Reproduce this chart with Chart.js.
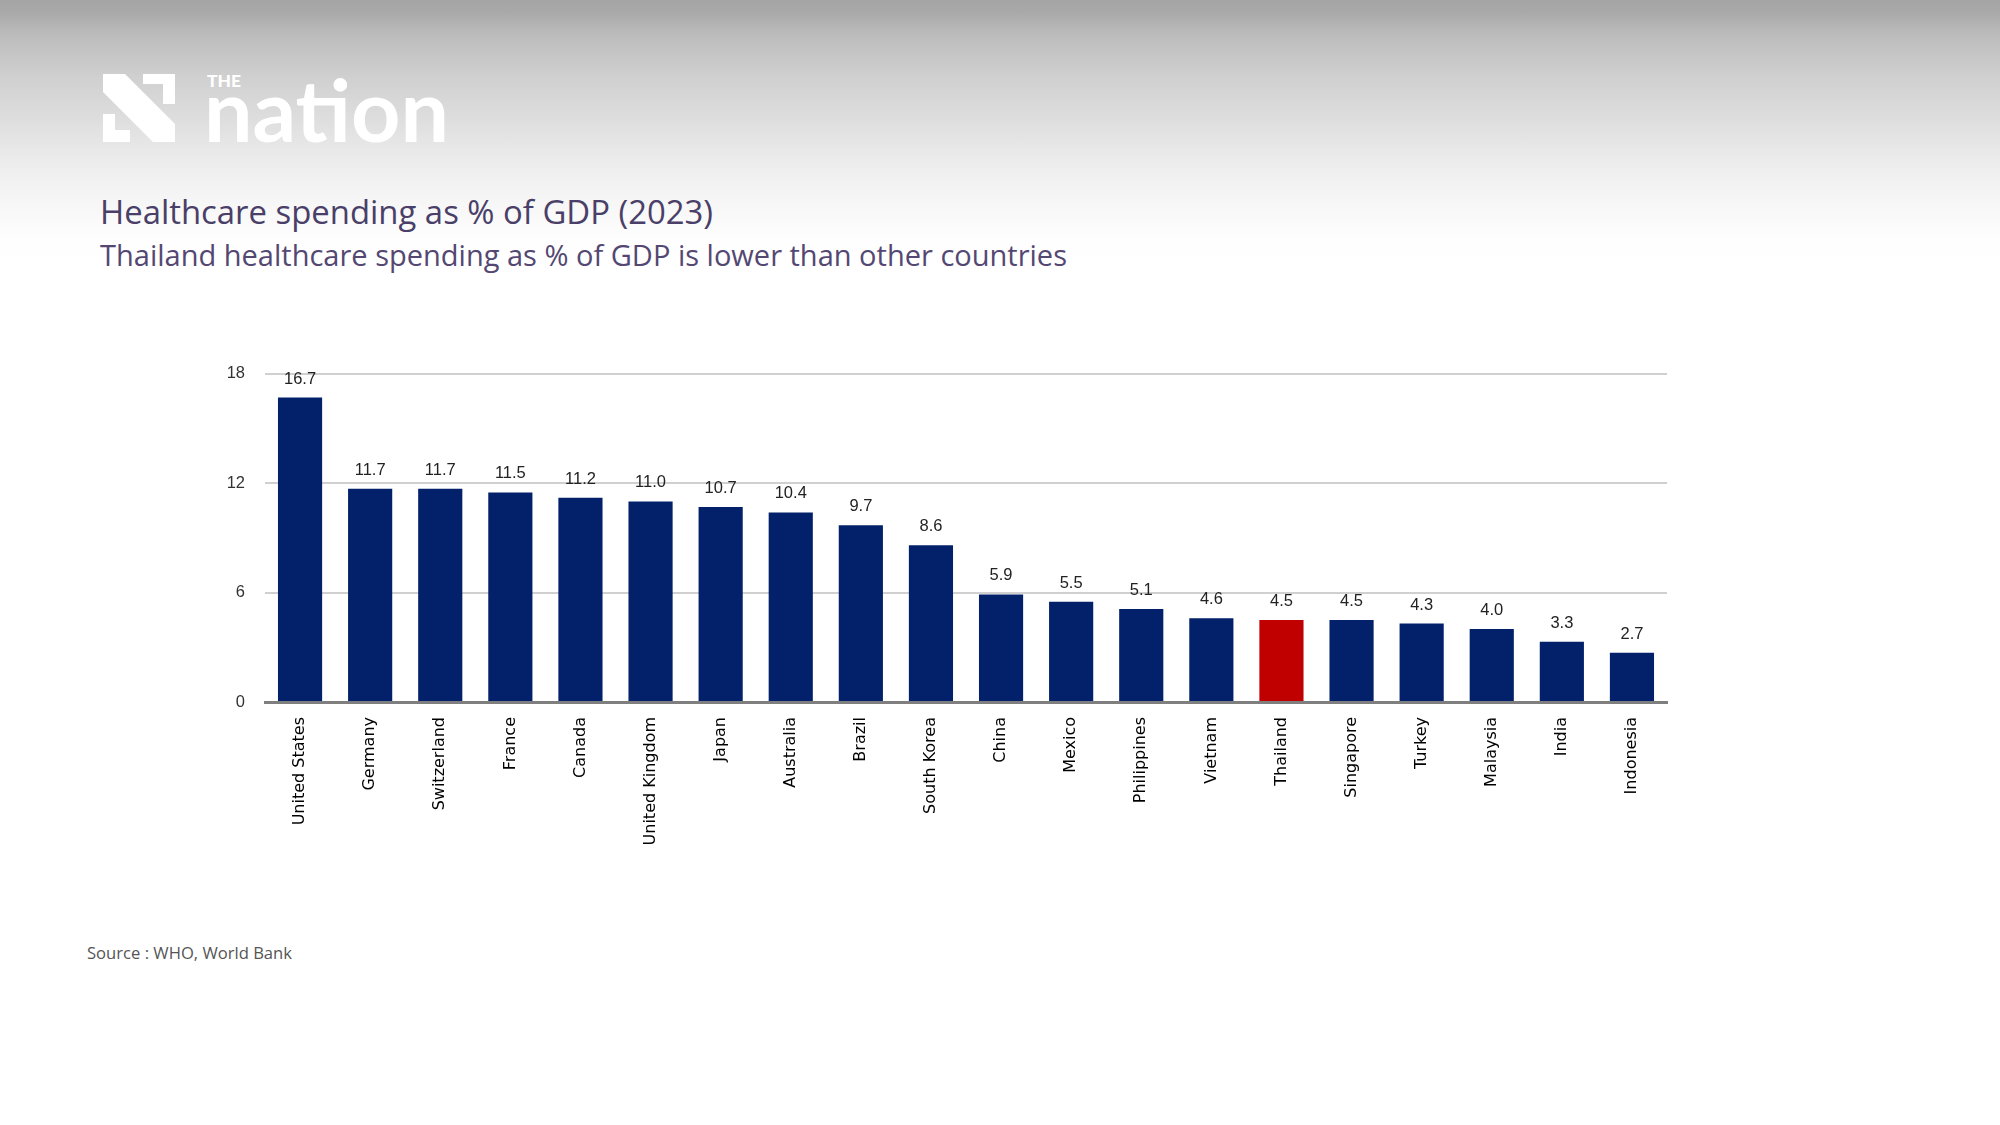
<!DOCTYPE html>
<html>
<head>
<meta charset="utf-8">
<script src="https://cdn.jsdelivr.net/npm/chart.js@4"></script>
<style>
  html, body { margin: 0; padding: 0; }
  body {
    width: 2000px; height: 1125px; position: relative; overflow: hidden;
    background: linear-gradient(to bottom, #a5a5a5 0px, #a9a9a9 12px, #bcbcbc 35px, #cfcfcf 75px,
      #dedede 120px, #efefef 170px, #f8f8f8 210px, #fefefe 240px, #ffffff 265px);
  }
  #logo { position: absolute; left: 103px; top: 72px; }
  #heads { position: absolute; left: 0; top: 0; }
  #wrap { position: absolute; left: 220px; top: 344px; width: 1449px; height: 540px; }
</style>
</head>
<body>

<!-- logo -->
<svg id="logo" width="360" height="76" viewBox="0 0 360 76">
  <g fill="#ffffff">
    <polygon points="0,2 22,2 72,52 72,70 50,70 0,20"/>
    <polygon points="0,42 12,42 12,58 27,58 27,70 0,70"/>
    <polygon points="40,2 72,2 72,32 60,32 60,12 40,12"/>
    <text x="104" y="15" font-family="Lato, 'Open Sans', sans-serif" font-weight="900" font-size="16"
      textLength="34" lengthAdjust="spacingAndGlyphs">THE</text>
    <text x="101" y="70" font-family="Lato, 'Open Sans', sans-serif" font-weight="700" font-size="86"
      textLength="245" lengthAdjust="spacingAndGlyphs">nation</text>
  </g>
</svg>

<!-- titles and source -->
<svg id="heads" width="2000" height="1125">
  <text x="100" y="224" fill="#4a3f68" font-family="'Open Sans', 'Noto Sans', sans-serif" font-size="33"
    textLength="613" lengthAdjust="spacingAndGlyphs">Healthcare spending as % of GDP (2023)</text>
  <text x="100" y="266" fill="#544873" font-family="'Open Sans', 'Noto Sans', sans-serif" font-size="29"
    textLength="967" lengthAdjust="spacingAndGlyphs">Thailand healthcare spending as % of GDP is lower than other countries</text>
  <text x="87" y="959" fill="#555555" font-family="'Open Sans', 'Noto Sans', sans-serif" font-size="16"
    textLength="205" lengthAdjust="spacingAndGlyphs">Source : WHO, World Bank</text>
</svg>

<div id="wrap"><canvas id="healthChart"></canvas></div>

<script>
// ——— data ———
const countries = [
  "United States", "Germany", "Switzerland", "France", "Canada",
  "United Kingdom", "Japan", "Australia", "Brazil", "South Korea",
  "China", "Mexico", "Philippines", "Vietnam", "Thailand",
  "Singapore", "Turkey", "Malaysia", "India", "Indonesia"
];
const spendingPct = [
  16.7, 11.7, 11.7, 11.5, 11.2,
  11.0, 10.7, 10.4, 9.7, 8.6,
  5.9, 5.5, 5.1, 4.6, 4.5,
  4.5, 4.3, 4.0, 3.3, 2.7
];
const yTicks = [0, 6, 12, 18];
const highlightCountry = "Thailand";

const navy = "#03216a";
const red = "#c00000";

// value labels above each bar
const valueLabels = {
  id: "valueLabels",
  afterDatasetsDraw(chart) {
    const ctx = chart.ctx;
    const meta = chart.getDatasetMeta(0);
    ctx.save();
    ctx.font = "16.5px 'Liberation Sans', Arial, sans-serif";
    ctx.fillStyle = "#222222";
    ctx.textAlign = "center";
    ctx.textBaseline = "alphabetic";
    meta.data.forEach((bar, i) => {
      ctx.fillText(spendingPct[i].toFixed(1), bar.x, bar.y - 14);
    });
    ctx.restore();
  },
};

const ctx = document.getElementById("healthChart").getContext("2d");
new Chart(ctx, {
  type: "bar",
  data: {
    labels: countries,
    datasets: [{
      data: spendingPct,
      backgroundColor: countries.map((c) => (c === highlightCountry ? red : navy)),
      borderWidth: 0,
      categoryPercentage: 1.0,
      barPercentage: 0.63,
    }],
  },
  options: {
    responsive: true,
    maintainAspectRatio: false,
    animation: false,
    layout: { padding: { top: 20, right: 2, left: 0, bottom: 0 } },
    plugins: {
      legend: { display: false },
      tooltip: { enabled: false },
      title: { display: false },
    },
    scales: {
      x: {
        grid: { display: false, drawTicks: false },
        border: { display: true, color: "#7f7f7f", width: 3 },
        ticks: {
          autoSkip: false,
          maxRotation: 90,
          minRotation: 90,
          padding: 15,
          color: "#000000",
          font: { family: "'DejaVu Sans', Verdana, sans-serif", size: 16 },
        },
        afterFit(scale) { scale.height = 182; },
      },
      y: {
        min: 0,
        max: 18,
        afterBuildTicks(scale) { scale.ticks = yTicks.map((v) => ({ value: v })); },
        grid: { color: "#d0d0d0", lineWidth: 2, drawTicks: false },
        border: { display: false },
        ticks: {
          padding: 20,
          color: "#333333",
          font: { family: "'Liberation Sans', Arial, sans-serif", size: 16.5 },
        },
        afterFit(scale) { scale.width = 45; },
      },
    },
  },
  plugins: [valueLabels],
});
</script>
</body>
</html>
